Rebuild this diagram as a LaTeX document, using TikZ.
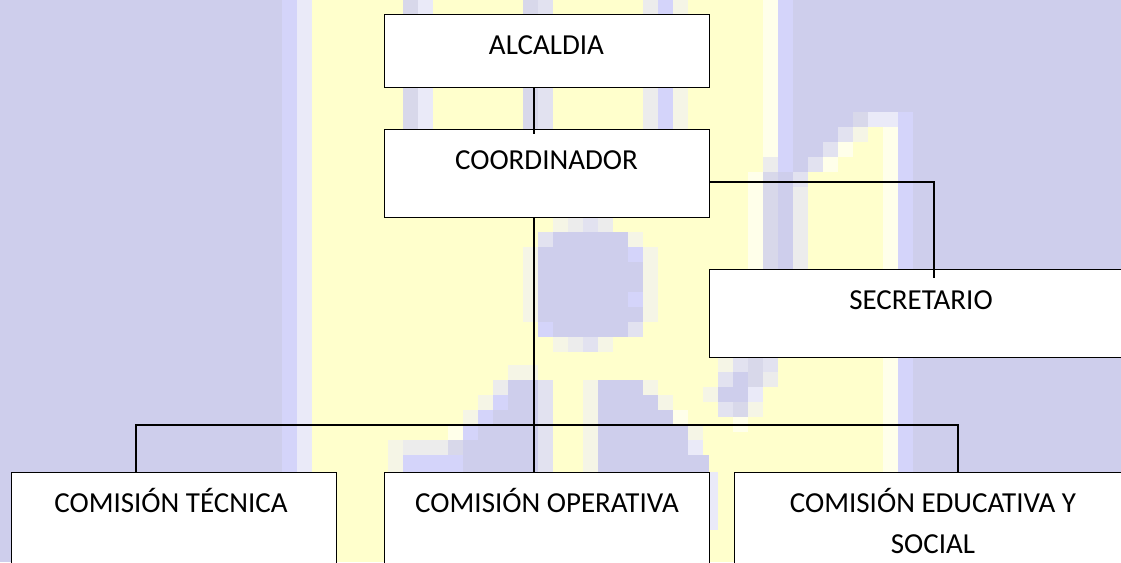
\documentclass[tikz,border=0pt]{standalone}
\usepackage{fontspec}
\setmainfont{Carlito}
\definecolor{lav}{HTML}{CECEEC}
\definecolor{lavL}{HTML}{D4D4FA}
\definecolor{lavP}{HTML}{EAEAF8}
\definecolor{yel}{HTML}{FFFFCC}
\definecolor{yelP}{HTML}{FFFFEA}
\definecolor{gA}{HTML}{E2E2F0}
\definecolor{gB}{HTML}{ECECEC}
\definecolor{gC}{HTML}{F5F5E6}
\definecolor{gD}{HTML}{D8D8EA}
\newcommand\pxr[5]{\fill[#5] (#1,#2) rectangle (#3,#4);}
\tikzset{
  box/.style={draw=black, fill=white, line width=1.3pt, inner sep=0pt, anchor=north west},
  lbl/.style={font=\fontsize{29}{35}\selectfont, anchor=base, inner sep=0pt, text=black},
  conn/.style={draw=black, line width=1.3pt}
}
\begin{document}
\begin{tikzpicture}[x=1pt,y=-1pt]
\clip (0,0) rectangle (1121,562);
% ---------- background watermark ----------
\pxr{0}{0}{1121}{562}{lav}
\pxr{282}{0}{297}{562}{lavL}
\pxr{297}{0}{312}{562}{lavP}
\pxr{312}{0}{763}{562}{yel}
% right edge of band, top
\pxr{763}{0}{778}{157}{yelP}
\pxr{778}{0}{793}{157}{lavL}
% right arm
\pxr{853}{112}{868}{127}{gD}
\pxr{868}{112}{898}{127}{lavP}
\pxr{898}{112}{913}{127}{lavL}
\pxr{838}{127}{853}{142}{gA}
\pxr{853}{127}{868}{142}{gC}
\pxr{868}{127}{883}{142}{yel}
\pxr{823}{142}{838}{157}{gA}
\pxr{838}{142}{853}{157}{yelP}
\pxr{853}{142}{883}{157}{yel}
\pxr{763}{157}{778}{172}{gB}
\pxr{778}{157}{793}{172}{lavL}
\pxr{808}{157}{823}{172}{gA}
\pxr{823}{157}{838}{172}{yelP}
\pxr{838}{157}{883}{172}{yel}
\pxr{748}{172}{763}{270}{yelP}
\pxr{763}{172}{778}{270}{gD}
\pxr{778}{172}{793}{270}{lav}
\pxr{793}{172}{808}{187}{gA}
\pxr{793}{187}{808}{270}{gB}
\pxr{808}{172}{883}{270}{yel}
\pxr{763}{270}{883}{562}{yel}
\pxr{883}{127}{898}{562}{yelP}
\pxr{898}{127}{913}{562}{lavL}
% columns at top
\pxr{403}{0}{418}{129}{gD}
\pxr{418}{0}{433}{129}{lavP}
\pxr{523}{0}{538}{129}{gD}
\pxr{538}{0}{553}{129}{gA}
\pxr{643}{0}{658}{129}{gB}
\pxr{658}{0}{673}{129}{lavL}
\pxr{673}{0}{688}{129}{gC}
% below coordinator
\pxr{553}{217}{568}{232}{gC}
\pxr{568}{217}{583}{232}{gB}
\pxr{583}{217}{598}{232}{gA}
\pxr{598}{217}{613}{232}{gB}
% circle
\pxr{523}{247}{538}{322}{gC}
\pxr{643}{247}{658}{322}{gC}
\pxr{538}{232}{553}{247}{gA}
\pxr{553}{232}{628}{247}{lav}
\pxr{628}{232}{643}{247}{gC}
\pxr{538}{247}{643}{322}{lav}
\pxr{628}{247}{643}{262}{lavL}
\pxr{628}{292}{643}{307}{lavL}
\pxr{538}{322}{553}{337}{lavL}
\pxr{553}{322}{628}{337}{lav}
\pxr{628}{322}{643}{337}{gA}
\pxr{553}{337}{568}{352}{gC}
\pxr{568}{337}{583}{352}{gB}
\pxr{583}{337}{598}{352}{gA}
\pxr{598}{337}{613}{352}{gC}
% left leg of arch
\pxr{508}{365}{538}{380}{gC}
\pxr{493}{380}{508}{395}{gB}
\pxr{508}{380}{538}{395}{lav}
\pxr{478}{395}{493}{410}{gC}
\pxr{493}{395}{508}{410}{lavL}
\pxr{508}{395}{538}{410}{lav}
\pxr{463}{410}{478}{425}{gC}
\pxr{478}{410}{493}{425}{lavL}
\pxr{493}{410}{538}{425}{lav}
\pxr{448}{425}{463}{440}{yelP}
\pxr{463}{425}{478}{440}{lavL}
\pxr{478}{425}{538}{440}{lav}
\pxr{388}{440}{403}{455}{gC}
\pxr{403}{440}{448}{455}{gB}
\pxr{448}{440}{463}{455}{gD}
\pxr{463}{440}{538}{455}{lav}
\pxr{388}{455}{403}{472}{gC}
\pxr{403}{455}{463}{472}{lavL}
\pxr{463}{455}{538}{472}{lav}
\pxr{538}{380}{553}{472}{gA}
% right leg of arch
\pxr{583}{380}{598}{472}{gC}
\pxr{598}{380}{643}{395}{lav}
\pxr{643}{380}{658}{395}{gC}
\pxr{598}{395}{658}{410}{lav}
\pxr{658}{395}{673}{410}{gC}
\pxr{598}{410}{673}{425}{lav}
\pxr{673}{410}{688}{425}{yelP}
\pxr{598}{425}{688}{440}{lav}
\pxr{688}{425}{703}{440}{gC}
\pxr{598}{440}{688}{455}{lav}
\pxr{688}{440}{703}{455}{lavP}
\pxr{598}{455}{709}{472}{lav}
\pxr{709}{472}{718}{530}{lavP}
% blob below secretario
\pxr{718}{357}{733}{372}{gC}
\pxr{733}{357}{748}{372}{gA}
\pxr{748}{357}{763}{372}{gD}
\pxr{763}{357}{778}{372}{gA}
\pxr{718}{372}{733}{387}{gA}
\pxr{733}{372}{748}{387}{lav}
\pxr{748}{372}{763}{387}{gD}
\pxr{763}{372}{778}{387}{gB}
\pxr{703}{387}{718}{402}{gC}
\pxr{718}{387}{733}{402}{lav}
\pxr{733}{387}{748}{402}{lav}
\pxr{748}{387}{763}{402}{lavP}
\pxr{718}{402}{733}{417}{gA}
\pxr{733}{402}{748}{417}{gD}
\pxr{748}{402}{763}{417}{gC}
\pxr{733}{417}{748}{432}{yelP}
% ---------- boxes ----------
\node[box, minimum width=325, minimum height=73] (alc) at (384,14) {};
\node[box, minimum width=325, minimum height=88] (coord) at (384,129) {};
\node[box, minimum width=424, minimum height=88] (sec) at (709,269) {};
\node[box, minimum width=325, minimum height=120] (com1) at (11,472) {};
\node[box, minimum width=325, minimum height=120] (com2) at (384,472) {};
\node[box, minimum width=398, minimum height=120] (com3) at (734,472) {};
% ---------- labels ----------
\node[lbl] (alcT) at (546.5,54) {ALCALDIA};
\node[lbl] (coordT) at (546.5,169) {COORDINADOR};
\node[lbl] (secT) at (921,309) {SECRETARIO};
\node[lbl] (com1T) at (171,512) {COMISIÓN TÉCNICA};
\node[lbl] (com2T) at (547,512) {COMISIÓN OPERATIVA};
\node[lbl] (com3T) at (933,512) {COMISIÓN EDUCATIVA Y};
\node[lbl] (com3U) at (933,553) {SOCIAL};
% ---------- connectors ----------
\coordinate (trunk) at (534,0);
\coordinate (sj) at (934,182);
\coordinate (bus) at (534,425);
\coordinate (b1) at (136,0);
\coordinate (b3) at (958,0);
\draw[conn] (alc.south -| trunk) -- ([yshift=-5pt]coord.north -| trunk);
\draw[conn] (coord.east |- sj) -| ([yshift=-9pt]sec.north -| sj);
\draw[conn] (coord.south -| trunk) -- (com2.north -| trunk);
\draw[conn] (com1.north -| b1) |- (bus) -| (com3.north -| b3);
\end{tikzpicture}
\end{document}
